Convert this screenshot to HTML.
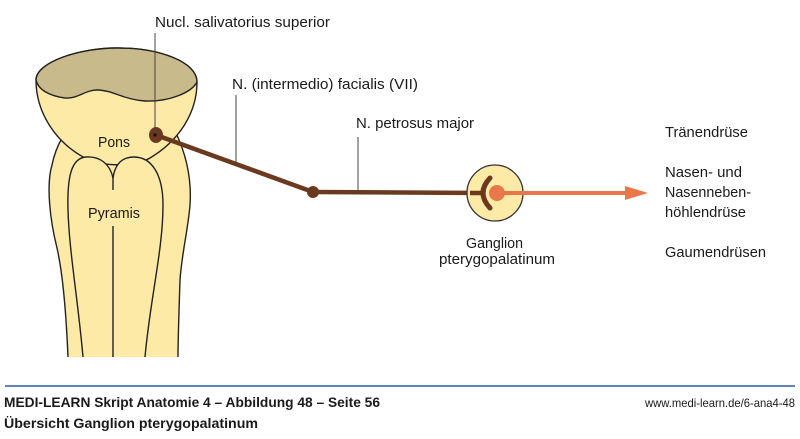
<!DOCTYPE html>
<html><head><meta charset="utf-8"><style>
html,body{margin:0;padding:0;background:#fff;}
svg{display:block;}
text{font-family:"Liberation Sans Narrow","Liberation Sans",sans-serif;fill:#1a1a1a;}
</style></head><body>
<svg width="800" height="439" viewBox="0 0 800 439" xmlns="http://www.w3.org/2000/svg">
<!-- outer body -->
<path d="M68,357 C66,310 62,270 57,248 C50,220 46,185 52,165 C54,155 58,145 62,138 L176,133 C184,150 192,175 190,205 C188,230 182,252 180,280 C179,310 178,340 178,357 Z" fill="#fdeaa6"/>
<path d="M68,357 C66,310 62,270 57,248 C50,220 46,185 52,165 C54,155 58,145 62,138" fill="none" stroke="#222" stroke-width="1.4"/>
<path d="M176,133 C184,150 192,175 190,205 C188,230 182,252 180,280 C179,310 178,340 178,357" fill="none" stroke="#222" stroke-width="1.4"/>
<!-- bowl -->
<path d="M36,80 C36,62 80,48 117,48 C160,48 197,62 197,82 C197,112 180,140 150,158 C135,167 100,167 85,158 C55,142 36,112 36,80 Z" fill="#fdeaa6" stroke="#222" stroke-width="1.4"/>
<!-- cap -->
<path d="M36,80 C36,62 80,48 117,48 C160,48 197,62 197,82 C192,92 170,102 145,101 C125,100 112,90 97,90 C85,90 78,99 65,98 C50,96 38,90 36,80 Z" fill="#c9ba8b" stroke="#222" stroke-width="1.4"/>
<!-- lobes -->
<path d="M83,357 C78,300 69,250 68,210 C67,175 72,158 86,157 C100,156 110,164 113,178 L113,357 Z" fill="#fdeaa6"/>
<path d="M113,178 C115,164 122,157 134,157 C152,157 163,175 163,205 C163,250 150,300 145,357 L113,357 Z" fill="#fdeaa6"/>
<path d="M83,357 C78,300 69,250 68,210 C67,175 72,158 86,157 C100,156 110,164 113,178" fill="none" stroke="#222" stroke-width="1.4"/>
<path d="M113,178 C115,164 122,157 134,157 C152,157 163,175 163,205 C163,250 150,300 145,357" fill="none" stroke="#222" stroke-width="1.4"/>
<line x1="113" y1="177" x2="113" y2="190" stroke="#222" stroke-width="1.4"/>
<line x1="113" y1="226" x2="113" y2="357" stroke="#222" stroke-width="1.4"/>
<text x="98" y="147" font-size="15" textLength="32" lengthAdjust="spacingAndGlyphs">Pons</text>
<text x="88" y="218" font-size="15" textLength="52" lengthAdjust="spacingAndGlyphs">Pyramis</text>
<!-- nerves -->
<line x1="156" y1="135" x2="313" y2="192" stroke="#6b3a1e" stroke-width="4.5"/>
<line x1="313" y1="192" x2="484" y2="193" stroke="#6b3a1e" stroke-width="4.5"/>
<circle cx="313" cy="192" r="6" fill="#6b3a1e"/>
<ellipse cx="156" cy="135" rx="7" ry="8" fill="#6b3a1e"/>
<!-- leaders -->
<line x1="155" y1="33" x2="155" y2="135" stroke="#444" stroke-width="1"/>
<circle cx="155" cy="135" r="1.6" fill="#111"/>
<line x1="236" y1="95" x2="236" y2="164" stroke="#444" stroke-width="1"/>
<line x1="358" y1="137" x2="358" y2="192" stroke="#444" stroke-width="1"/>
<!-- ganglion -->
<circle cx="495" cy="193" r="28" fill="#fdeaa6" stroke="#333" stroke-width="1.3"/>
<line x1="470" y1="193" x2="483" y2="193" stroke="#6b3a1e" stroke-width="4.5"/>
<path d="M490,178 Q476,193 490,208" fill="none" stroke="#6b3a1e" stroke-width="5" stroke-linecap="round"/>
<line x1="497" y1="193" x2="628" y2="193" stroke="#e8784a" stroke-width="4"/>
<polygon points="625,186 648,193 625,200" fill="#e8784a"/>
<circle cx="497" cy="193" r="8" fill="#e8784a"/>
<!-- labels -->
<text x="155" y="27" font-size="15" textLength="175" lengthAdjust="spacingAndGlyphs">Nucl. salivatorius superior</text>
<text x="232" y="89" font-size="15" textLength="186" lengthAdjust="spacingAndGlyphs">N. (intermedio) facialis (VII)</text>
<text x="356" y="128" font-size="15" textLength="118" lengthAdjust="spacingAndGlyphs">N. petrosus major</text>
<text x="466" y="248" font-size="15" textLength="57" lengthAdjust="spacingAndGlyphs">Ganglion</text>
<text x="439" y="264" font-size="15" textLength="116" lengthAdjust="spacingAndGlyphs">pterygopalatinum</text>
<text x="665" y="137" font-size="15" textLength="83" lengthAdjust="spacingAndGlyphs">Tränendrüse</text>
<text x="665" y="177" font-size="15" textLength="77" lengthAdjust="spacingAndGlyphs">Nasen- und</text>
<text x="665" y="197" font-size="15" textLength="86" lengthAdjust="spacingAndGlyphs">Nasenneben-</text>
<text x="665" y="217" font-size="15" textLength="81" lengthAdjust="spacingAndGlyphs">höhlendrüse</text>
<text x="665" y="257" font-size="15" textLength="101" lengthAdjust="spacingAndGlyphs">Gaumendrüsen</text>
<!-- footer -->
<line x1="5" y1="386" x2="795" y2="386" stroke="#2a5ca8" stroke-width="1.6"/>
<text x="4" y="407" font-size="14" font-weight="bold" textLength="376" lengthAdjust="spacingAndGlyphs">MEDI-LEARN Skript Anatomie 4 – Abbildung 48 – Seite 56</text>
<text x="4" y="428" font-size="14" font-weight="bold" textLength="254" lengthAdjust="spacingAndGlyphs">Übersicht Ganglion pterygopalatinum</text>
<text x="645" y="407" font-size="12" textLength="150" lengthAdjust="spacingAndGlyphs">www.medi-learn.de/6-ana4-48</text>
</svg>
</body></html>
